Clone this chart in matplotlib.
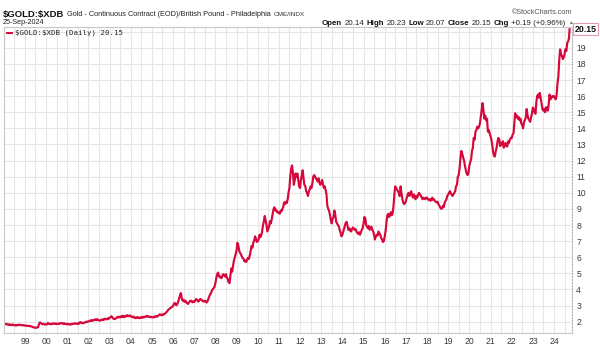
import matplotlib
matplotlib.use("Agg")
import matplotlib.pyplot as plt
import matplotlib.dates as mdates
import matplotlib.transforms as mtransforms
from matplotlib.lines import Line2D
import pandas as pd

plt.rcParams['font.family'] = ['Liberation Sans', 'DejaVu Sans']
plt.rcParams['text.parse_math'] = False

W, H = 600, 355

symbol = "$GOLD:$XDB"
name = "Gold - Continuous Contract (EOD)/British Pound - Philadelphia"
exchange = "CME/INDX"
asof = "25-Sep-2024"
ohlc = [("Open", "20.14"), ("High", "20.23"), ("Low", "20.07"),
        ("Close", "20.15"), ("Chg", "+0.19 (+0.96%)")]

# closes on the 1st and 15th of every month
y1998 = [1.88, 1.86, 1.84, 1.87, 1.83, 1.81, 1.84, 1.80, 1.82, 1.79, 1.83, 1.80,
         1.78, 1.77, 1.80, 1.77, 1.80, 1.82, 1.79, 1.81, 1.79, 1.77, 1.79, 1.77]
y1999 = [1.77, 1.75, 1.76, 1.73, 1.75, 1.72, 1.74, 1.71, 1.70, 1.67, 1.65, 1.63,
         1.64, 1.62, 1.64, 1.66, 1.86, 1.96, 1.92, 1.87, 1.84, 1.88, 1.84, 1.82]
y2000 = [1.85, 1.83, 1.93, 1.88, 1.86, 1.84, 1.88, 1.85, 1.89, 1.90, 1.86, 1.89,
         1.85, 1.87, 1.90, 1.86, 1.89, 1.92, 1.91, 1.87, 1.90, 1.86, 1.88, 1.85]
y2001 = [1.84, 1.87, 1.83, 1.82, 1.86, 1.84, 1.88, 1.86, 1.88, 1.91, 1.88, 1.86,
         1.89, 1.86, 1.95, 1.98, 1.93, 1.90, 1.94, 1.92, 1.95, 1.98, 2.01, 1.98]
y2002 = [2.02, 2.04, 2.08, 2.05, 2.09, 2.06, 2.10, 2.13, 2.15, 2.09, 2.16, 2.11,
         2.08, 2.06, 2.10, 2.13, 2.10, 2.16, 2.13, 2.19, 2.16, 2.14, 2.21, 2.18]
y2003 = [2.24, 2.28, 2.34, 2.30, 2.20, 2.18, 2.16, 2.20, 2.24, 2.30, 2.26, 2.31,
         2.27, 2.33, 2.30, 2.37, 2.29, 2.34, 2.31, 2.38, 2.40, 2.33, 2.37, 2.39]
y2004 = [2.35, 2.30, 2.28, 2.33, 2.26, 2.22, 2.27, 2.23, 2.29, 2.24, 2.22, 2.27,
         2.24, 2.29, 2.26, 2.31, 2.28, 2.33, 2.36, 2.31, 2.34, 2.31, 2.28, 2.31]
y2005 = [2.28, 2.26, 2.31, 2.28, 2.33, 2.35, 2.31, 2.37, 2.41, 2.46, 2.43, 2.40,
         2.46, 2.43, 2.47, 2.51, 2.56, 2.63, 2.70, 2.76, 2.81, 2.86, 2.89, 2.93]
y2006 = [2.98, 3.12, 3.16, 3.06, 3.02, 3.12, 3.26, 3.46, 3.66, 3.78, 3.42, 3.30,
         3.36, 3.24, 3.31, 3.20, 3.15, 3.10, 3.21, 3.26, 3.31, 3.28, 3.20, 3.26]
y2007 = [3.22, 3.31, 3.41, 3.36, 3.30, 3.25, 3.36, 3.41, 3.38, 3.32, 3.28, 3.24,
         3.30, 3.28, 3.19, 3.25, 3.42, 3.56, 3.70, 3.76, 3.92, 4.02, 4.08, 4.15]
y2008 = [4.40, 4.70, 4.95, 5.05, 4.85, 4.75, 4.80, 4.70, 4.85, 4.95, 4.90, 4.80,
         4.95, 4.75, 4.65, 4.45, 4.40, 4.85, 5.30, 5.10, 5.50, 5.80, 6.00, 6.20]
y2009 = [6.45, 6.90, 6.70, 6.40, 6.27, 6.20, 6.05, 5.95, 5.90, 5.75, 5.80, 5.70,
         5.85, 5.96, 5.90, 6.10, 6.40, 6.70, 6.60, 6.90, 7.05, 7.30, 7.15, 6.95]
y2010 = [7.00, 7.10, 7.40, 7.25, 7.35, 7.55, 8.00, 8.20, 8.56, 8.30, 8.00, 7.60,
         7.75, 7.90, 8.25, 8.10, 8.40, 8.70, 9.00, 9.10, 8.90, 8.95, 8.80, 8.77]
y2011 = [8.80, 8.70, 8.90, 8.85, 9.00, 9.10, 9.40, 9.30, 9.45, 9.35, 9.60, 10.00,
         10.30, 11.00, 11.50, 11.70, 11.20, 10.50, 10.80, 11.20, 11.00, 11.20, 10.80, 10.40]
y2012 = [10.30, 10.80, 11.10, 11.40, 10.90, 10.50, 10.40, 10.10, 10.00, 9.80, 10.10, 10.20,
         10.40, 10.30, 10.60, 11.00, 11.10, 11.00, 10.90, 10.80, 10.70, 10.90, 10.60, 10.50]
y2013 = [10.60, 10.80, 10.50, 10.30, 10.40, 10.20, 9.90, 9.20, 9.00, 8.90, 8.60, 8.30,
         8.10, 8.40, 8.50, 8.90, 8.60, 8.20, 8.10, 8.00, 7.90, 7.70, 7.50, 7.30]
y2014 = [7.40, 7.60, 7.80, 8.00, 8.15, 8.20, 7.90, 7.70, 7.80, 7.65, 7.60, 7.75,
         7.85, 7.80, 7.70, 7.75, 7.60, 7.50, 7.45, 7.55, 7.40, 7.55, 7.70, 7.80]
y2015 = [8.10, 8.50, 8.40, 8.00, 7.90, 7.80, 7.95, 7.70, 7.80, 7.90, 7.70, 7.60,
         7.40, 7.10, 7.30, 7.40, 7.35, 7.60, 7.50, 7.40, 7.20, 7.10, 6.95, 7.00]
y2016 = [7.30, 7.60, 8.20, 8.60, 8.70, 8.50, 8.60, 8.80, 8.60, 8.70, 9.20, 9.90,
         10.40, 10.30, 10.20, 10.10, 10.00, 9.80, 10.40, 10.00, 9.60, 9.40, 9.30, 9.35]
y2017 = [9.50, 9.70, 9.90, 10.00, 9.80, 9.90, 10.10, 9.90, 9.70, 9.90, 9.80, 9.60,
         9.80, 9.70, 9.90, 10.00, 9.90, 9.80, 9.70, 9.60, 9.70, 9.65, 9.60, 9.70]
y2018 = [9.70, 9.60, 9.55, 9.60, 9.50, 9.60, 9.70, 9.55, 9.60, 9.50, 9.45, 9.40,
         9.45, 9.30, 9.20, 9.10, 9.00, 9.05, 9.20, 9.10, 9.40, 9.50, 9.60, 9.80]
y2019 = [9.90, 10.00, 10.10, 9.95, 9.90, 9.80, 9.90, 10.00, 10.10, 10.40, 10.50, 11.00,
         11.10, 11.50, 12.20, 12.60, 12.40, 12.20, 12.00, 11.70, 11.40, 11.20, 11.10, 11.20]
y2020 = [11.70, 11.90, 12.10, 12.60, 12.80, 13.40, 13.30, 13.80, 13.90, 14.10, 14.00, 14.10,
         14.30, 14.70, 15.20, 15.57, 15.10, 14.60, 14.80, 14.50, 14.60, 13.80, 13.90, 13.70]
y2021 = [13.50, 13.30, 12.90, 12.50, 12.30, 12.25, 12.60, 12.80, 13.20, 13.40, 13.30, 12.90,
         13.10, 13.00, 13.20, 12.80, 12.90, 13.10, 12.95, 12.87, 13.20, 13.10, 13.30, 13.40]
y2022 = [13.40, 13.60, 13.70, 14.30, 14.94, 14.70, 14.80, 14.60, 14.70, 14.50, 14.60, 14.30,
         14.20, 14.00, 14.40, 14.50, 14.70, 15.20, 14.80, 14.60, 14.50, 14.40, 14.70, 14.90]
y2023 = [15.30, 15.20, 15.00, 14.90, 15.60, 16.00, 16.10, 15.90, 16.20, 15.90, 15.50, 15.20,
         15.10, 15.20, 15.00, 15.30, 15.30, 15.10, 15.50, 16.10, 15.80, 15.90, 16.00, 15.97]
y2024 = [16.00, 15.90, 15.80, 16.10, 16.80, 17.20, 18.30, 18.90, 18.60, 18.50, 18.30, 18.40,
         18.60, 18.90, 18.80, 19.30, 19.40, 19.60]
last_date = "2024-09-25"
last_close = 20.15

closes = (y1998 + y1999 + y2000 + y2001 + y2002 + y2003 + y2004 + y2005 + y2006
          + y2007 + y2008 + y2009 + y2010 + y2011 + y2012 + y2013 + y2014 + y2015
          + y2016 + y2017 + y2018 + y2019 + y2020 + y2021 + y2022 + y2023 + y2024
          + [last_close])
dates = list(pd.date_range("1998-01-01", "2024-09-15", freq="SMS")) + [pd.Timestamp(last_date)]

red = '#d6083b'
grid = '#e6e6e6'
txt = '#3a3a3a'

fig = plt.figure(figsize=(W / 100, H / 100), dpi=100)
fig.patch.set_facecolor('white')
ax = fig.add_axes([4 / W, 1 - 333 / H, 568 / W, 306 / H])

ax.plot(dates, closes, color=red, lw=1.55, solid_joinstyle='round')

ax.set_xlim(pd.Timestamp("1998-01-04"), pd.Timestamp("2024-11-06"))
ax.set_ylim(1.30, 20.29)

ax.yaxis.tick_right()
ax.set_yticks(range(2, 21))
ax.set_yticklabels([str(v) for v in range(2, 20)] + [''])
ax.xaxis.set_major_locator(mdates.YearLocator(1, month=1, day=1))
ax.xaxis.set_major_formatter(mdates.DateFormatter('%y'))
ax.xaxis.set_minor_locator(mdates.MonthLocator(bymonth=7))
ax.tick_params(axis='both', which='both', length=0, labelsize=6.2, colors=txt)
ax.tick_params(axis='y', pad=3)
ax.tick_params(axis='x', pad=3)
ax.grid(True, which='both', color=grid, lw=0.8)
ax.set_axisbelow(True)
for side in ['left', 'top', 'bottom']:
    ax.spines[side].set_color('#c8c8c8')
    ax.spines[side].set_linewidth(0.8)
ax.spines['right'].set_color('#b0b0b0')
ax.spines['right'].set_linestyle(':')
ax.spines['right'].set_linewidth(0.8)

# last value box on the price axis
tr = mtransforms.blended_transform_factory(ax.transAxes, ax.transData)
ax.text(1.004, last_close, "%.2f" % last_close, transform=tr, fontsize=6.3,
        fontweight='bold', color='#111111', va='center', ha='left',
        bbox=dict(boxstyle='square,pad=0.15', fc='white', ec='#e59ab0', lw=0.8))


def at(x, y):
    return x / W, 1 - y / H


renderer = fig.canvas.get_renderer()


def run(x, y, pieces, size, gap=2.5):
    for s, bold, col in pieces:
        t = fig.text(*at(x, y), s, fontsize=size, color=col, va='center',
                     fontweight='bold' if bold else 'normal')
        x += t.get_window_extent(renderer).width + gap
    return x


# header
xn = run(3, 14, [(symbol, True, '#111111')], 6.8)
xn = run(xn, 14.5, [(name, False, '#222222')], 5.35)
fig.text(*at(xn + 1, 14.5), exchange, fontsize=4.6, color='#333333', va='center')
fig.text(*at(572, 13), "\u00a9StockCharts.com", fontsize=5.2, color='#555555',
         va='center', ha='right')
fig.text(*at(3, 23), asof, fontsize=5.2, color='#222222', va='center')

pieces = []
for k, v in ohlc:
    pieces.append((k, True, '#111111'))
    pieces.append((v, False, '#222222'))
xe = run(322, 23.5, pieces, 5.65, gap=2.3)
fig.text(*at(xe + 0.5, 23), "\u25b2", fontsize=3.5, color='#2e9a3a', va='center')

# legend entry
fig.add_artist(Line2D([7 / W, 12 / W], [1 - 32.5 / H] * 2, color=red, lw=1.4))
fig.text(*at(15, 32.5), "%s (Daily) %.2f" % (symbol, last_close), fontsize=5.3,
         family='DejaVu Sans Mono', color='#222222', va='center')

fig.savefig("out.png", dpi=100)
